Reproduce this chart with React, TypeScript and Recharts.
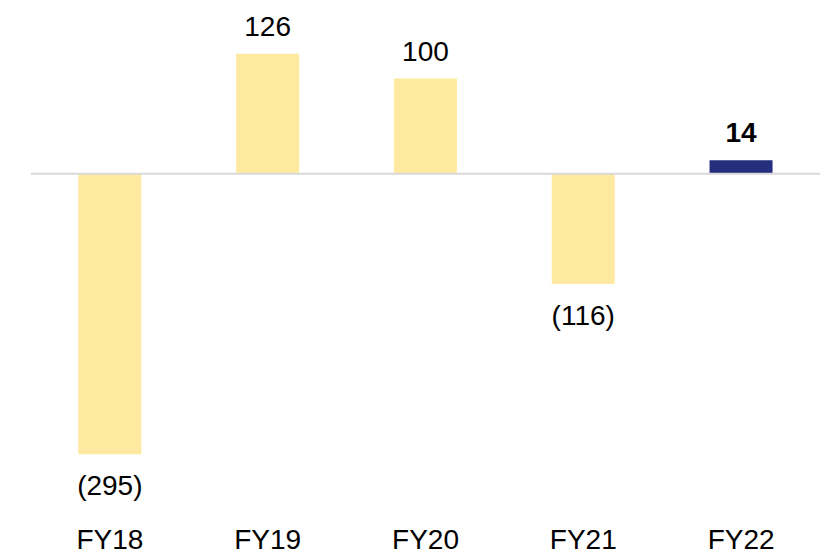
import React from "react";
import { BarChart, Bar, XAxis, YAxis, ReferenceLine, LabelList, Cell } from "recharts";

const years = ["FY18", "FY19", "FY20", "FY21", "FY22"];
const values = [-295, 126, 100, -116, 14];
const highlight = [false, false, false, false, true];

const data = years.map((year, i) => ({ year, value: values[i], hl: highlight[i] }));

const FONT = "'Liberation Sans', Arial, sans-serif";
const YELLOW = "#FFE9A1";
const NAVY = "#252D7D";

const fmt = (v: number) => (v < 0 ? `(${Math.abs(v)})` : `${v}`);

const ValueLabel = (props: any) => {
	const { x, y, width, height, value, index } = props;
	const top = Math.min(y, y + height);
	const bottom = Math.max(y, y + height);
	const cx = x + width / 2;
	const ty = value < 0 ? bottom + 41 : top - 18;
	return (
		<text
			x={cx}
			y={ty}
			textAnchor='middle'
			fontFamily={FONT}
			fontSize={28}
			fontWeight={highlight[index] ? 700 : 400}
			fill='#000'
		>
			{fmt(value)}
		</text>
	);
};

export default function App() {
	return (
		<div
			style={{
				position: "absolute",
				top: 0,
				left: 0,
				width: 821,
				height: 555,
				background: "#fff",
				overflow: "hidden",
			}}
		>
			<BarChart
				width={821}
				height={555}
				data={data}
				margin={{ top: 31, right: 1, bottom: 0, left: 31 }}
				barCategoryGap='30%'
			>
				<XAxis
					dataKey='year'
					axisLine={false}
					tickLine={false}
					height={96}
					tickMargin={64}
					tick={{ fontSize: 28, fill: "#000", fontFamily: FONT }}
				/>
				<YAxis hide domain={[-300, 150]} />
				<ReferenceLine y={0} stroke='#d9d9d9' strokeWidth={2} />
				<Bar dataKey='value' isAnimationActive={false}>
					{data.map((d, i) => (
						<Cell key={i} fill={d.hl ? NAVY : YELLOW} />
					))}
					<LabelList dataKey='value' content={ValueLabel} />
				</Bar>
			</BarChart>
		</div>
	);
}
